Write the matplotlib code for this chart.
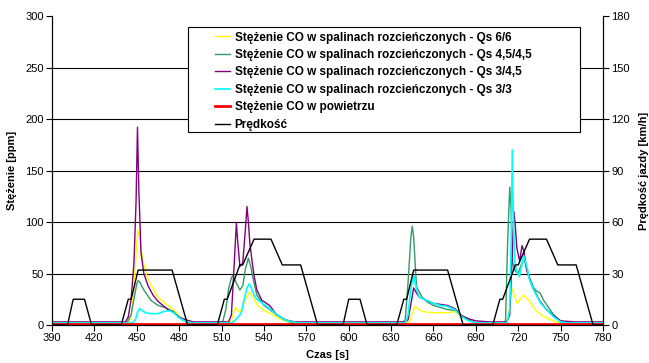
import matplotlib
matplotlib.use("Agg")
import matplotlib.pyplot as plt
from matplotlib.patches import Rectangle

plt.rcParams['font.family'] = ['Liberation Sans', 'DejaVu Sans']

# CO concentration [ppm] vs time [s]
qs66_t = [390, 444, 446, 448, 450, 451, 452, 454, 457, 460, 465, 470, 475, 478, 481, 485, 490,
          515, 517, 519, 520, 521, 523, 525, 528, 530, 532, 535, 540, 545, 550, 555, 560,
          640, 643, 645, 647, 650, 652, 660, 670, 675, 678, 681, 685, 690,
          711, 713, 715, 716, 717, 719, 721, 723.5, 726, 728, 732, 736, 740, 745, 750, 780]
qs66_v = [2, 2, 8, 35, 80, 92, 85, 65, 48, 39, 27, 21, 16, 12, 7, 4, 2,
          2, 5, 14, 17, 15, 12, 18, 28, 32, 28, 20, 14, 11, 7, 4, 2,
          2, 3, 12, 18, 15, 13, 12, 12, 13, 10, 7, 4, 2,
          2, 8, 30, 35, 30, 21, 24, 29, 26, 23, 15, 10, 7, 4, 2, 2]

qs45_t = [390, 443, 446, 448, 450, 451, 452, 455, 460, 465, 470, 473, 476, 480, 485, 490,
          509, 511, 513, 515, 517, 518, 520, 523, 525, 527, 529, 531, 532, 535, 540, 545, 550, 555, 560,
          638, 640, 642, 644, 645, 646, 648, 652, 656, 660, 670, 676, 680, 685, 690,
          710, 711, 712.5, 714, 715, 716, 718, 720, 722, 724, 726, 728, 731, 733, 735.5, 738, 740, 745, 750, 755, 780]
qs45_v = [2, 2, 10, 25, 40, 43, 42, 34, 24, 19, 17, 15, 13, 7, 3, 2,
          2, 4, 15, 35, 46, 48, 42, 34, 38, 55, 65, 55, 47, 29, 19, 14, 9, 5, 2,
          2, 5, 41, 85, 96, 85, 37, 27, 22, 19, 15, 14, 9, 5, 2,
          2, 4, 80, 134, 110, 60, 52, 50, 58, 65, 55, 46, 36, 33, 31, 24, 20, 10, 4, 2, 2]

qs345_t = [390, 442, 444, 446, 448, 449.5, 450.5, 451.5, 453, 455, 458, 461.5, 465, 468.5, 472, 475.5, 478, 481, 485, 490,
           515, 517, 519, 520.5, 521.5, 523, 525, 527, 528, 529, 530, 531.5, 533, 535, 538.5, 544, 549, 555, 562,
           640, 642, 644, 646, 648, 650, 655, 660, 670, 675, 680, 685, 690, 700,
           712, 714, 715.5, 717, 718, 719, 721, 722.7, 724, 726, 730, 735, 740, 745, 750, 760, 780]
qs345_v = [3, 3, 8, 25, 60, 120, 192, 130, 70, 50, 38, 29, 23, 19, 15, 13, 10, 7, 5, 3,
           3, 10, 60, 99, 80, 57, 60, 95, 115, 100, 80, 63, 48, 34, 24, 19, 10, 5, 3,
           3, 5, 20, 36, 31, 27, 24, 21, 19, 16, 9, 6, 4, 3,
           3, 10, 60, 110, 95, 75, 62, 77, 72, 53, 37, 24, 15, 9, 4, 3, 3]

qs33_t = [390, 447, 449, 450.5, 452, 454, 456, 460, 465, 469, 473, 476, 480, 485, 490,
          517, 519, 522, 524, 526, 528, 529.6, 531, 533, 535, 540, 545, 550, 555, 560, 565,
          640, 642, 644, 646, 648, 650, 655, 660, 665, 670, 675, 680, 685, 690,
          712, 714, 715, 715.8, 716.5, 717.5, 719, 720.8, 722, 724, 726, 728, 732, 736, 740, 745, 750, 755, 780]
qs33_v = [2, 2, 5, 12, 16, 14, 12, 11, 11, 13, 14, 12, 7, 3, 2,
          2, 4, 8, 12, 25, 36, 40, 36, 29, 25, 20, 15, 9, 5, 3, 2,
          2, 10, 35, 48, 35, 27, 24, 21, 19, 18, 15, 8, 4, 2,
          2, 15, 80, 170, 110, 60, 52, 47, 55, 67, 57, 44, 31, 21, 15, 8, 3, 2, 2]

air_t = [390, 480, 585, 680, 780]
air_v = [1, 1, 1, 1, 1]

# vehicle speed [km/h]
speed_t = [390, 401, 405, 413, 418, 439, 444, 446, 451, 475, 486, 507, 512, 514, 523, 525, 533, 545, 553, 566, 578,
           596, 600, 608, 613, 634, 639, 641, 646, 670, 681, 702, 707, 709, 718, 720, 728, 740, 748, 761, 773, 780]
speed_v = [0, 0, 15, 15, 0, 0, 15, 15, 32, 32, 0, 0, 15, 15, 35, 35, 50, 50, 35, 35, 0,
           0, 15, 15, 0, 0, 15, 15, 32, 32, 0, 0, 15, 15, 35, 35, 50, 50, 35, 35, 0, 0]

labels = ['Stężenie CO w spalinach rozcieńczonych - Qs 6/6',
          'Stężenie CO w spalinach rozcieńczonych - Qs 4,5/4,5',
          'Stężenie CO w spalinach rozcieńczonych - Qs 3/4,5',
          'Stężenie CO w spalinach rozcieńczonych - Qs 3/3',
          'Stężenie CO w powietrzu',
          'Prędkość']

W, H = 649, 363
fig = plt.figure(figsize=(W / 100, H / 100), dpi=100)
ax = fig.add_axes([52 / W, 1 - 325 / H, 551 / W, 309 / H])
ax2 = ax.twinx()

for y in range(50, 300, 50):
    ax.axhline(y, color='black', lw=0.8, zorder=0)

h1, = ax.plot(qs66_t, qs66_v, color='#FFFF00', lw=1)
h2, = ax.plot(qs45_t, qs45_v, color='#339966', lw=1)
h3, = ax.plot(qs345_t, qs345_v, color='#800080', lw=1)
h4, = ax.plot(qs33_t, qs33_v, color='#00FFFF', lw=1.2)
h5, = ax.plot(air_t, air_v, color='#FF0000', lw=2)
h6, = ax2.plot(speed_t, speed_v, color='black', lw=1)

ax.set_xlim(390, 780)
ax.set_ylim(0, 300)
ax2.set_ylim(0, 180)
ax.set_xticks(range(390, 781, 30))
ax.set_yticks(range(0, 301, 50))
ax2.set_yticks(range(0, 181, 30))

for a in (ax, ax2):
    a.spines['top'].set_visible(False)
    a.tick_params(labelsize=8, length=4, width=0.8, pad=2)
    for s in a.spines.values():
        s.set_linewidth(0.8)

ax.set_xlabel('Czas [s]', fontsize=8, fontweight='bold')
ax.set_ylabel('Stężenie [ppm]', fontsize=8, fontweight='bold')
ax2.set_ylabel('Prędkość jazdy [km/h]', fontsize=8, fontweight='bold', rotation=90)
ax.xaxis.set_label_coords(0.5, -0.08)
ax.yaxis.set_label_coords(-0.064, 0.5)
ax2.yaxis.set_label_coords(1.066, 0.5)

# legend box
fig.patches.append(Rectangle((188 / W, 1 - 132 / H), 392 / W, 105 / H, transform=fig.transFigure,
                             facecolor='white', edgecolor='black', lw=0.8, zorder=2))
fig.legend([h1, h2, h3, h4, h5, h6], labels, loc='upper left',
           bbox_to_anchor=(211 / W, 1 - 28 / H), frameon=False,
           prop={'size': 8.5, 'weight': 'bold'}, handlelength=1.35, handletextpad=0.35,
           labelspacing=0.46, borderpad=0.3, borderaxespad=0)

fig.savefig('out.png', dpi=100)
